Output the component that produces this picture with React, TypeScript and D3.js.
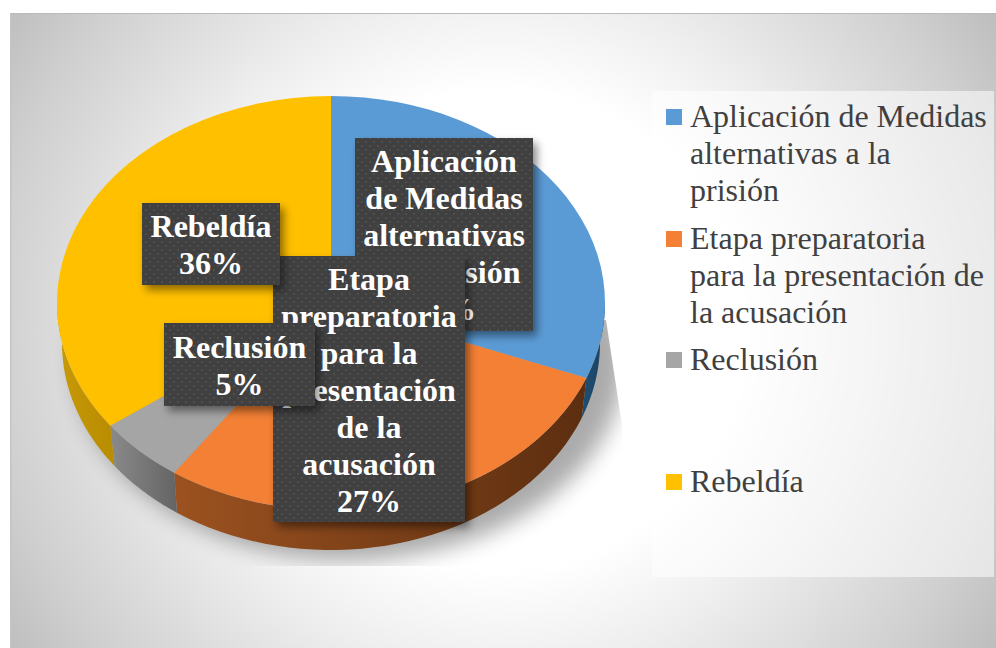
import React from "react";
import * as d3 from "d3";

const categories = ["Aplicación de Medidas alternativas a la prisión", "Etapa preparatoria para la presentación de la acusación", "Reclusión", "Rebeldía"];
const shownPercents = [32, 27, 5, 36];
const sliceShares = [30.9, 28.8, 5.2, 35.1];
const topColors = ["#5b9bd5", "#f38034", "#a5a5a5", "#ffc000"];
const sideLeft = ["#1f4e73", "#9c5220", "#8a8a8a", "#c89a08"];
const sideRight = ["#1c4260", "#5c2e10", "#646464", "#b88c00"];
const labelLines = [
  ["Aplicación", "de Medidas", "alternativas", "a la prisión"],
  ["Etapa", "preparatoria", "para la", "presentación", "de la", "acusación"],
  ["Reclusión"],
  ["Rebeldía"],
];
const legendLines = [
  ["Aplicación de Medidas", "alternativas a la", "prisión"],
  ["Etapa preparatoria", "para la presentación de", "la acusación"],
  ["Reclusión"],
  ["Rebeldía"],
];
const legendTops = [98, 220, 341, 463];
const labelBoxes = [
  { x: 355, y: 138, w: 178, h: 193 },
  { x: 273, y: 256, w: 192, h: 266 },
  { x: 164, y: 323, w: 151, h: 83 },
  { x: 142, y: 203, w: 138, h: 82 },
];

const W = 996, H = 648;
const cx = 331, cy = 303, rx = 274, ry = 207, depth = 40, rxBottom = 269;
const serif = "'Liberation Serif', serif";

export default function App() {
  const pie = d3.pie<number>().sort(null).value((d) => d)(sliceShares);
  const arc = d3.arc<any>().innerRadius(0).outerRadius(rx);
  const pt = (a: number, r = rx, dy = 0): [number, number] => [cx + r * Math.sin(a), cy - ry * Math.cos(a) + dy];
  const line = d3.line();
  const sides = pie.map((p) => {
    const a0 = Math.max(p.startAngle, Math.PI / 2);
    const a1 = Math.min(p.endAngle, (Math.PI * 3) / 2);
    if (a1 <= a0) return null;
    const angles = d3.range(0, 41).map((i) => a0 + ((a1 - a0) * i) / 40);
    const pts = [...angles.map((a) => pt(a)), ...angles.slice().reverse().map((a) => pt(a, rxBottom, depth))];
    const xs = pts.map((q) => q[0]);
    return { d: line(pts) + "Z", x0: d3.min(xs)!, x1: d3.max(xs)! };
  });
  const shadow = d3.range(0, 73).map((i): [number, number] => {
    const a = (i / 72) * Math.PI * 2;
    return [350 + 275 * Math.sin(a), 360 - 200 * Math.cos(a)];
  });

  return (
    <svg width={W} height={H} style={{ position: "absolute", left: 0, top: 0, background: "#fff" }}>
      <defs>
        <radialGradient id="bg" gradientUnits="userSpaceOnUse" cx={500} cy={330} r={600}>
          <stop offset="0.4" stopColor="#ffffff" />
          <stop offset="0.57" stopColor="#eeeeee" />
          <stop offset="0.85" stopColor="#cfcfcf" />
          <stop offset="1" stopColor="#bbbbbb" />
        </radialGradient>
        <filter id="blur" x="-20%" y="-20%" width="140%" height="140%"><feGaussianBlur stdDeviation="11" /></filter>
        <filter id="boxShadow" x="-20%" y="-20%" width="140%" height="140%">
          <feDropShadow dx="4" dy="5" stdDeviation="4" floodColor="#000" floodOpacity="0.45" />
        </filter>
        <pattern id="dots" width="8" height="8" patternUnits="userSpaceOnUse">
          <rect width="8" height="8" fill="#404040" />
          <rect x="1" y="1" width="2" height="2" fill="#505050" />
          <rect x="5" y="5" width="2" height="2" fill="#505050" />
        </pattern>
        <clipPath id="shadowClip"><polygon points="40,330 606,320 622,425 622,566 40,566" /></clipPath>
        {sides.map((s, i) => s && (
          <linearGradient key={i} id={`side${i}`} gradientUnits="userSpaceOnUse" x1={s.x0} x2={s.x1} y1={0} y2={0}>
            <stop offset="0" stopColor={sideLeft[i]} />
            <stop offset="1" stopColor={sideRight[i]} />
          </linearGradient>
        ))}
      </defs>

      <rect x={10} y={13} width={986} height={635} fill="url(#bg)" />
      <rect x={10} y={13} width={986} height={1} fill="#bbbbbb" />
      <rect x={10} y={13} width={1.5} height={635} fill="#c4c4c4" />
      <g clipPath="url(#shadowClip)">
        <path d={line(shadow) + "Z"} fill="#000" opacity={0.33} filter="url(#blur)" />
      </g>

      <rect x={652} y={91} width={342} height={486} fill="#ffffff" opacity={0.55} />

      {sides.map((s, i) => s && <path key={i} d={s.d} fill={`url(#side${i})`} />)}
      <g transform={`translate(${cx} ${cy}) scale(1 ${ry / rx})`}>
        {pie.map((p, i) => <path key={i} d={arc(p)!} fill={topColors[i]} />)}
      </g>

      {labelBoxes.map((b, i) => {
        const lines = [...labelLines[i], `${shownPercents[i]}%`];
        const lh = 37;
        const first = b.y + b.h / 2 - ((lines.length - 1) * lh) / 2 + 11.5;
        return (
          <g key={i}>
            <rect x={b.x} y={b.y} width={b.w} height={b.h} fill="url(#dots)" filter="url(#boxShadow)" />
            <text fontFamily={serif} fontWeight="bold" fontSize={32} fill="#fff" textAnchor="middle">
              {lines.map((l, j) => <tspan key={j} x={b.x + b.w / 2} y={first + j * lh}>{l}</tspan>)}
            </text>
          </g>
        );
      })}

      {categories.map((c, i) => (
        <g key={c}>
          <rect x={666} y={legendTops[i] + 11} width={16} height={16} fill={topColors[i]} />
          <text fontFamily={serif} fontSize={32} fill="#404040">
            {legendLines[i].map((l, j) => <tspan key={j} x={690} y={legendTops[i] + 29 + j * 37}>{l}</tspan>)}
          </text>
        </g>
      ))}
    </svg>
  );
}
